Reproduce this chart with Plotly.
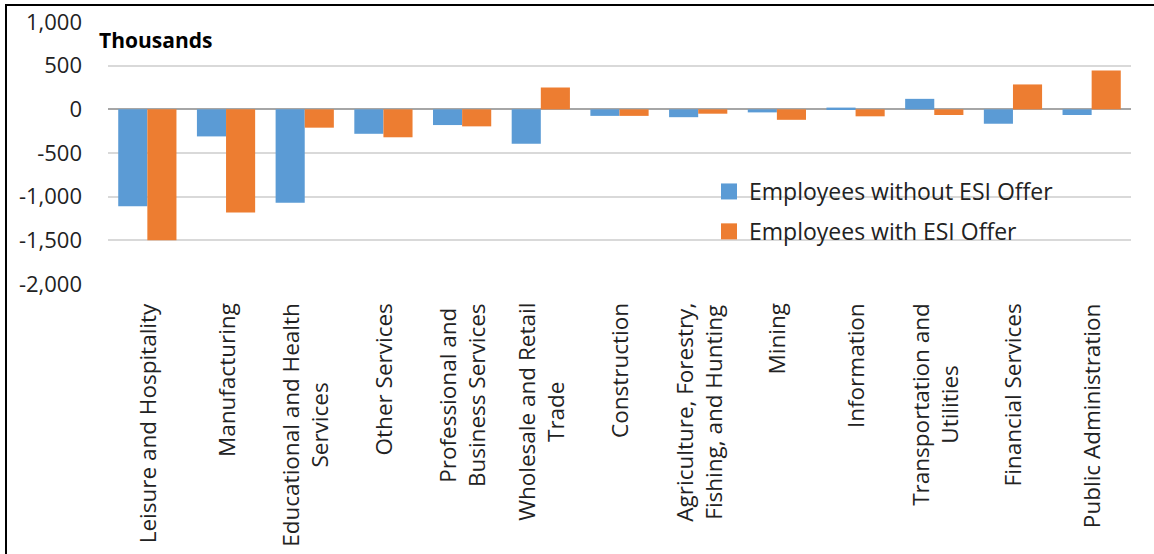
import plotly.graph_objects as go

categories = [
    "Leisure and Hospitality",
    "Manufacturing",
    "Educational and Health<br>Services",
    "Other Services",
    "Professional and<br>Business Services",
    "Wholesale and Retail<br>Trade",
    "Construction",
    "Agriculture, Forestry,<br>Fishing, and Hunting",
    "Mining",
    "Information",
    "Transportation and<br>Utilities",
    "Financial Services",
    "Public Administration",
]
without_esi = [-1110, -310, -1070, -280, -180, -395, -75, -90, -35, 20, 120, -165, -65]
with_esi = [-1500, -1180, -210, -320, -195, 250, -75, -50, -120, -80, -65, 285, 445]

y_ticks = [-2000, -1500, -1000, -500, 0, 500, 1000]
y_tick_text = ["-2,000", "-1,500", "-1,000", "-500", "0", "500", "1,000"]
series_names = ["Employees without ESI Offer", "Employees with ESI Offer"]
colors = ["#5B9BD5", "#ED7D31"]

FONT = "Open Sans"
TXT = "#222222"

W, H = 1154, 554
L, R, T, B = 108, 23, 22, 270
pw, ph = W - L - R, H - T - B


def px_x(p):
    return (p - L) / pw


def px_y(p):
    return (H - B - p) / ph


fig = go.Figure()
for name, vals, col in zip(series_names, [without_esi, with_esi], colors):
    fig.add_trace(go.Bar(x=categories, y=vals, name=name, marker=dict(color=col, line=dict(width=0)),
                         showlegend=False))
for i, (name, col) in enumerate(zip(series_names, colors)):
    fig.add_trace(go.Scatter(x=[None], y=[None], mode="markers", name=name,
                             legendgroup=f"g{i}",
                             marker=dict(symbol="square", size=16, color=col)))

annotations = []
for c in categories:
    annotations.append(dict(x=c, xref="x", y=0, yref="paper", yanchor="top", xanchor="center",
                            yshift=-17, text=c, textangle=-90, showarrow=False, align="center",
                            font=dict(family=FONT, size=22.5, color=TXT)))
annotations.append(dict(x=px_x(97), xref="paper", y=px_y(40), yref="paper", xanchor="left",
                        yanchor="middle", text="<b>Thousands</b>", showarrow=False,
                        font=dict(family=FONT, size=21, color="#000000")))

shapes = [
    dict(type="line", xref="paper", yref="paper", x0=px_x(5), x1=px_x(W), y0=px_y(5), y1=px_y(5),
         line=dict(color="#000000", width=2)),
    dict(type="line", xref="paper", yref="paper", x0=px_x(6), x1=px_x(6), y0=px_y(4), y1=px_y(H),
         line=dict(color="#000000", width=2)),
]

fig.update_layout(
    width=W, height=H,
    margin=dict(l=L, r=R, t=T, b=B, pad=0, autoexpand=False),
    paper_bgcolor="white", plot_bgcolor="white",
    barmode="group", bargap=0.26, bargroupgap=0,
    font=dict(family=FONT, color=TXT),
    annotations=annotations,
    shapes=shapes,
    legend=dict(x=px_x(709), y=px_y(170), xanchor="left", yanchor="top",
                font=dict(family=FONT, size=23, color=TXT), bgcolor="rgba(0,0,0,0)",
                tracegroupgap=7, itemwidth=30, traceorder="grouped"),
    xaxis=dict(showticklabels=False, showgrid=False, zeroline=False, showline=False, ticks="",
               automargin=False),
    yaxis=dict(range=[-2000, 1000], tickvals=y_ticks, ticktext=y_tick_text, showgrid=True,
               gridcolor="#D9D9D9", gridwidth=1.5, zeroline=True, zerolinecolor="#A6A6A6",
               zerolinewidth=2, showline=False, ticks="", ticklabelstandoff=25, automargin=False,
               tickfont=dict(family=FONT, size=22, color=TXT)),
)

fig.write_html("out.html", config={"displayModeBar": False},
               post_script="document.body.style.margin='0';document.body.style.padding='0';")
